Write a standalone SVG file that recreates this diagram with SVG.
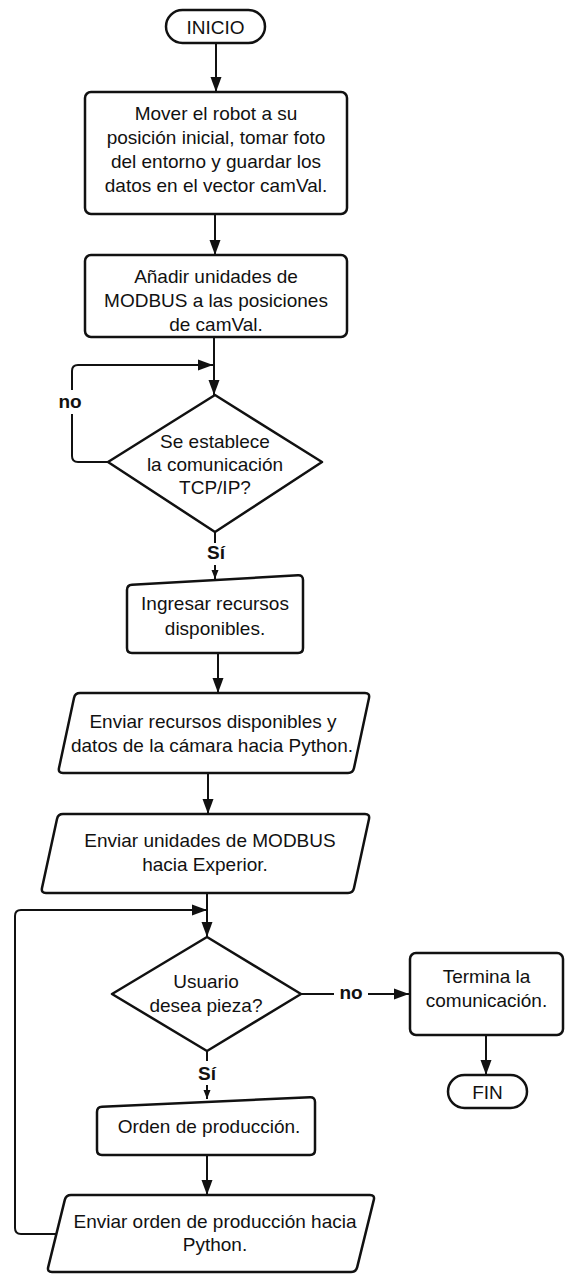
<svg xmlns="http://www.w3.org/2000/svg" width="566" height="1275" viewBox="0 0 566 1275">
  <defs>
    <marker id="arrow" markerUnits="userSpaceOnUse" markerWidth="16" markerHeight="12" refX="15" refY="6" orient="auto">
      <path d="M0,0.5 L15,6 L0,11.5 Z" fill="#111"/>
    </marker>
    <marker id="arrowSmall" markerUnits="userSpaceOnUse" markerWidth="10" markerHeight="8" refX="9" refY="4" orient="auto">
      <path d="M0,0.5 L9,4 L0,7.5 Z" fill="#111"/>
    </marker>
    <style>
      .shape { fill: #fff; stroke: #111; stroke-width: 2.5; stroke-linejoin: round; }
      .edge { fill: none; stroke: #111; stroke-width: 2; stroke-linejoin: round; }
      .t { font-family: "Liberation Sans", Arial, sans-serif; font-size: 19px; fill: #111; text-anchor: middle; }
      .lbl { font-family: "Liberation Sans", Arial, sans-serif; font-size: 19px; font-weight: bold; fill: #111; text-anchor: middle; }
      .bg { fill: #fff; stroke: none; }
    </style>
  </defs>

  <rect width="566" height="1275" fill="#fff"/>

  <!-- connectors -->
  <g id="connectors">
    <path class="edge" d="M216,43 L216,92" marker-end="url(#arrow)"/>
    <path class="edge" d="M215,214 L215,255" marker-end="url(#arrow)"/>
    <path class="edge" d="M214,337 L214,395" marker-end="url(#arrow)"/>
    <!-- retry loop for TCP/IP -->
    <path class="edge" d="M108,462 L78,462 Q72,462 72,456 L72,371 Q72,365 78,365 L213,365" marker-end="url(#arrow)"/>
    <path class="edge" d="M215,532 L215,579" marker-end="url(#arrowSmall)"/>
    <path class="edge" d="M218,653 L218,693" marker-end="url(#arrow)"/>
    <path class="edge" d="M208,773 L208,814" marker-end="url(#arrow)"/>
    <path class="edge" d="M207,893 L207,937" marker-end="url(#arrow)"/>
    <!-- production loop -->
    <path class="edge" d="M56,1234 L21,1234 Q15,1234 15,1228 L15,916 Q15,910 21,910 L207,910" marker-end="url(#arrow)"/>
    <path class="edge" d="M301,994 L409,994" marker-end="url(#arrow)"/>
    <path class="edge" d="M207,1051 L207,1099" marker-end="url(#arrowSmall)"/>
    <path class="edge" d="M207,1155 L207,1195" marker-end="url(#arrow)"/>
    <path class="edge" d="M486,1035 L486,1075" marker-end="url(#arrow)"/>

    <g id="label-no-1">
      <rect class="bg" x="57" y="390" width="30" height="24"/>
      <text class="lbl" x="70" y="408">no</text>
    </g>
    <g id="label-si-1">
      <rect class="bg" x="203" y="543" width="24" height="22"/>
      <text class="lbl" x="216" y="559">Sí</text>
    </g>
    <g id="label-no-2">
      <rect class="bg" x="334" y="982" width="34" height="22"/>
      <text class="lbl" x="351" y="999">no</text>
    </g>
    <g id="label-si-2">
      <rect class="bg" x="195" y="1061" width="24" height="24"/>
      <text class="lbl" x="207" y="1080">Sí</text>
    </g>
  </g>

  <g id="inicio">
    <rect class="shape" x="166" y="10" width="99" height="33" rx="16.5"/>
    <text class="t" x="215.5" y="34">INICIO</text>
  </g>

  <g id="mover-robot">
    <rect class="shape" x="85" y="92" width="262" height="122" rx="6"/>
    <text class="t" x="216" y="120">Mover el robot a su</text>
    <text class="t" x="216" y="144">posición inicial, tomar foto</text>
    <text class="t" x="216" y="168">del entorno y guardar los</text>
    <text class="t" x="216" y="192">datos en el vector camVal.</text>
  </g>

  <g id="anadir-modbus">
    <rect class="shape" x="85" y="255" width="262" height="82" rx="6"/>
    <text class="t" x="216" y="283">Añadir unidades de</text>
    <text class="t" x="216" y="307">MODBUS a las posiciones</text>
    <text class="t" x="216" y="331">de camVal.</text>
  </g>

  <g id="decision-tcp">
    <path class="shape" d="M215,395 L322,462 L215,532 L108,462 Z"/>
    <text class="t" x="215" y="448">Se establece</text>
    <text class="t" x="215" y="471">la comunicación</text>
    <text class="t" x="215" y="494">TCP/IP?</text>
  </g>

  <g id="ingresar-recursos">
    <path class="shape" d="M127,590 Q127,585 132,584.7 L298,575.3 Q303,575 303,580 L303,648 Q303,653 298,653 L132,653 Q127,653 127,648 Z"/>
    <text class="t" x="215" y="610">Ingresar recursos</text>
    <text class="t" x="215" y="635">disponibles.</text>
  </g>

  <g id="enviar-recursos">
    <path class="shape" d="M80,693 L365,693 Q370,693 369,697.9 L354,768.1 Q353,773 348,773 L63,773 Q58,773 59,768.1 L74,697.9 Q75,693 80,693 Z"/>
    <text class="t" x="213" y="728">Enviar recursos disponibles y</text>
    <text class="t" x="212" y="752">datos de la cámara hacia Python.</text>
  </g>

  <g id="enviar-modbus">
    <path class="shape" d="M63,814 L365,814 Q370,814 369,818.9 L354,888.1 Q353,893 348,893 L46,893 Q41,893 42,888.1 L57,818.9 Q58,814 63,814 Z"/>
    <text class="t" x="210" y="847">Enviar unidades de MODBUS</text>
    <text class="t" x="205" y="871">hacia Experior.</text>
  </g>

  <g id="decision-pieza">
    <path class="shape" d="M207,937 L301,994 L207,1051 L112,994 Z"/>
    <text class="t" x="206" y="988">Usuario</text>
    <text class="t" x="206" y="1012">desea pieza?</text>
  </g>

  <g id="termina">
    <rect class="shape" x="410" y="953" width="153" height="82" rx="6"/>
    <text class="t" x="486.5" y="983">Termina la</text>
    <text class="t" x="486.5" y="1007">comunicación.</text>
  </g>

  <g id="fin">
    <rect class="shape" x="448" y="1075" width="79" height="33" rx="16.5"/>
    <text class="t" x="487.5" y="1099">FIN</text>
  </g>

  <g id="orden-produccion">
    <path class="shape" d="M97,1112 Q97,1107 102,1106.8 L310,1097.2 Q315,1097 315,1102 L315,1150 Q315,1155 310,1155 L102,1155 Q97,1155 97,1150 Z"/>
    <text class="t" x="209" y="1133">Orden de producción.</text>
  </g>

  <g id="enviar-orden">
    <path class="shape" d="M71,1195 L370,1195 Q375,1195 373.8,1199.9 L357.2,1267.1 Q356,1272 351,1272 L52,1272 Q47,1272 48.2,1267.1 L64.8,1199.9 Q66,1195 71,1195 Z"/>
    <text class="t" x="215" y="1228">Enviar orden de producción hacia</text>
    <text class="t" x="215" y="1251">Python.</text>
  </g>
</svg>
